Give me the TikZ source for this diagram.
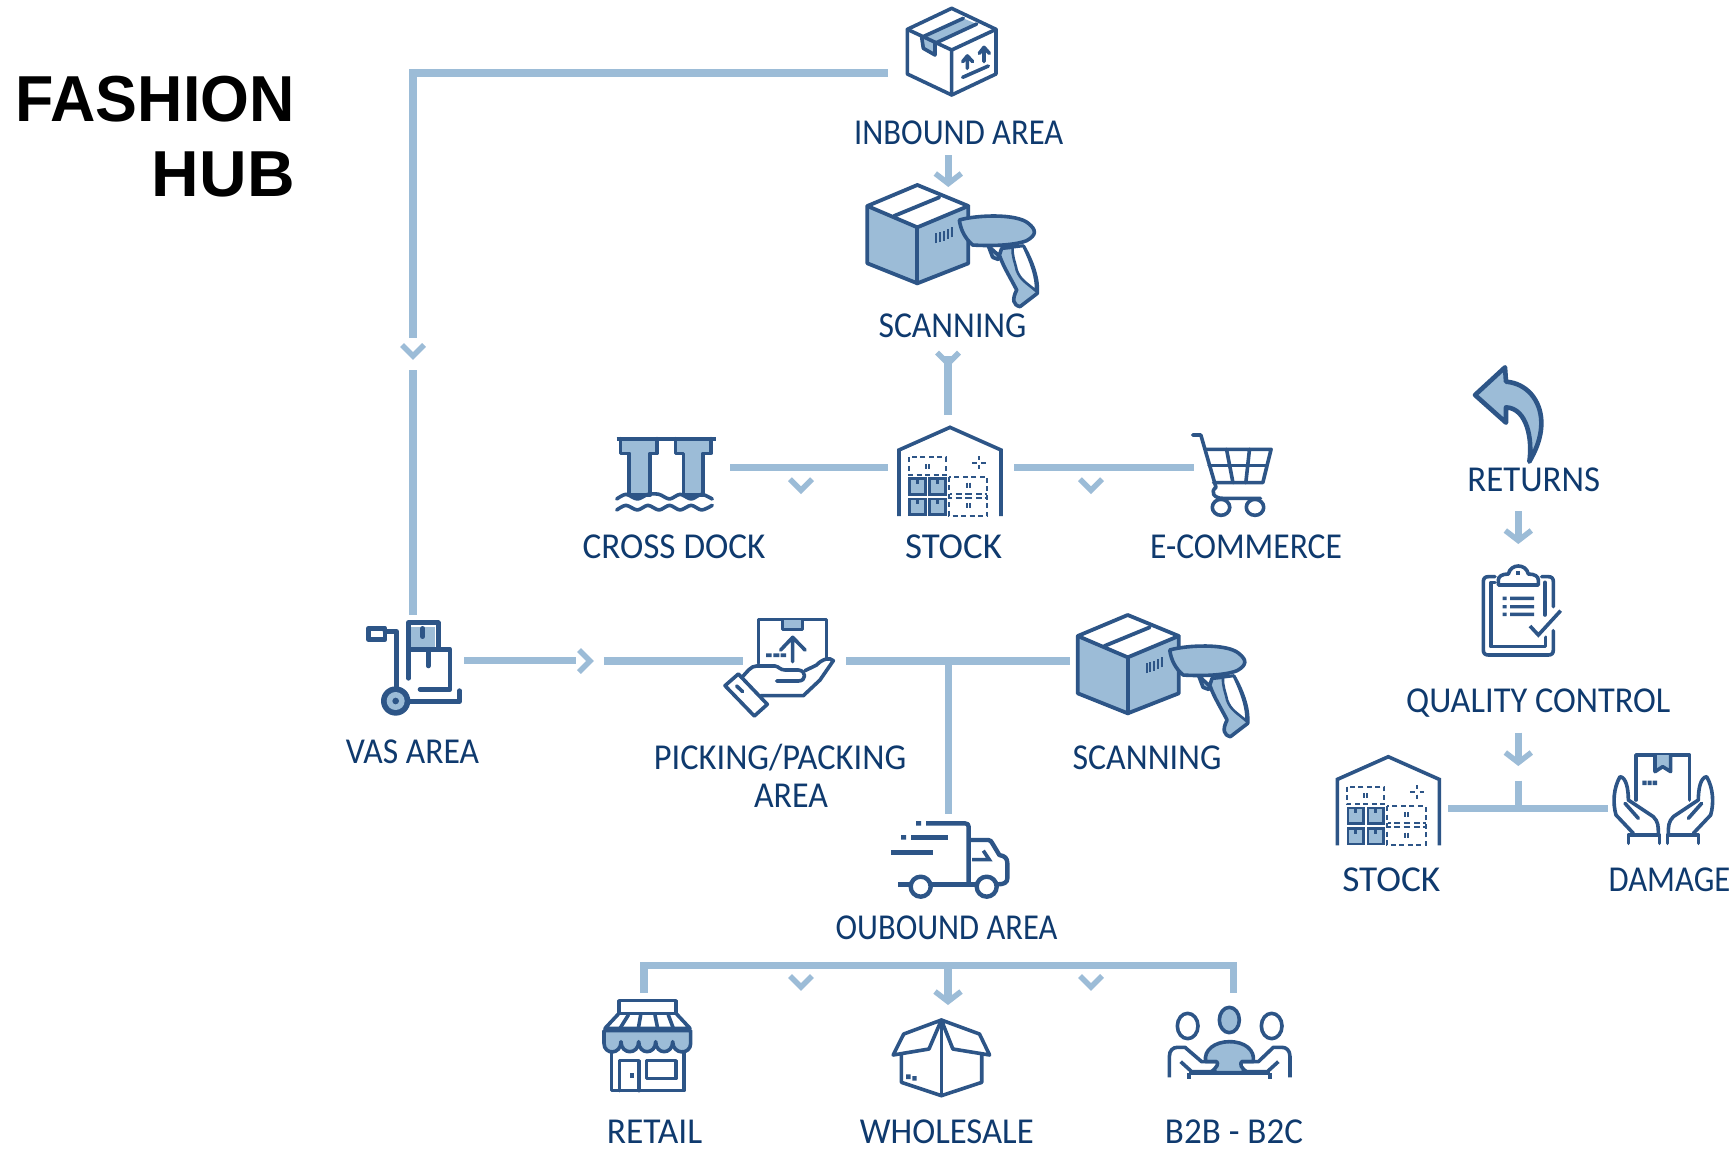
\documentclass[tikz,border=0pt]{standalone}
\usepackage{fontspec}
\usepackage{graphicx}
\setmainfont{Carlito}
\newfontfamily\titlefont[FakeStretch=0.966]{Liberation Sans Bold}
\newfontfamily\labelfont[FakeStretch=0.86]{Carlito}
\usetikzlibrary{arrows.meta,calc}
\definecolor{lineblue}{HTML}{9CBCD7}
\definecolor{iconblue}{HTML}{2D5587}
\definecolor{softblue}{HTML}{9CBCD7}
\definecolor{labelblue}{HTML}{0F3A6E}
\tikzset{
  conn/.style={draw=lineblue,line width=7.3pt,line cap=butt,line join=miter},
  arrowed/.style={conn,-{Straight Barb[length=10pt,width=26pt,line width=5.5pt]}},
  chev/.style={draw=lineblue,line width=5.5pt,line cap=butt,line join=miter},
  ic/.style={draw=iconblue,line width=3.6pt,line cap=round,line join=round},
  icf/.style={ic,fill=softblue},
  icw/.style={ic,fill=white},
  thin ic/.style={draw=iconblue,line width=2pt,line cap=butt},
  dash ic/.style={draw=iconblue,line width=2pt,line cap=butt,dash pattern=on 5pt off 3.5pt},
  lab/.style={font=\labelfont\fontsize{36.5}{38}\selectfont,text=labelblue,anchor=base,inner sep=0pt,align=center},
  ttl/.style={font=\titlefont\fontsize{65}{75}\selectfont,text=black,anchor=base east,inner sep=0pt},
  zoom3/.style={x=0.33333pt,y=-0.33333pt},
  zoomw/.style={x=0.45918pt,y=-0.33333pt},
}
\newcommand{\widen}[2]{\scalebox{#1}[1]{#2}}
\newcommand{\chevmark}[1]{\draw[chev] ($(#1)+(-11,-6)$) -- ($(#1)+(0,5)$) -- ($(#1)+(11,-6)$);}
\newcommand{\scannerIcon}{%
\begin{scope}[shift={(820,0)},zoom3]
  \fill[softblue] (142,618)--(292,682)--(292,850)--(142,790)--cycle;
  \fill[softblue] (292,682)--(445,618)--(445,790)--(292,850)--cycle;
  \draw[ic,line width=3.8pt] (142,618)--(292,555)--(445,618)--(445,790)--(292,850)--(142,790)--cycle;
  \draw[ic,line width=3.8pt] (142,618)--(292,682)--(445,618);
  \draw[ic,line width=3.8pt] (292,682)--(292,850);
  \draw[ic,line width=3.8pt] (222,648)--(358,592);
  \foreach \bx/\by in {349/730,360/727,371/722,383/716,396/712}{\draw[thin ic] (\bx,\by)--(\bx,{\by-30});}
  \draw[icf] (505,738)--(518,772)--(534,778)--(545,745)--(610,738)
     .. controls (640,790) and (655,840) .. (652,880)
     -- (600,920) .. controls (580,915) and (575,900) .. (590,870)
     .. controls (575,840) and (550,800) .. (540,770)--cycle;
  \draw[ic,fill=white,line width=2.6pt] (578,742) -- (610,738) .. controls (635,790) and (650,835) .. (648,873)
     .. controls (622,850) and (600,840) .. (590,810) .. controls (585,785) and (576,770) .. (578,742);
  \draw[icf] (418,660) .. controls (470,645) and (590,640) .. (625,670)
     .. controls (650,690) and (650,705) .. (620,722)
     .. controls (580,738) and (500,738) .. (458,735)
     .. controls (435,715) and (422,690) .. (418,660) -- cycle;
\end{scope}}
\newcommand{\stockIcon}{%
\begin{scope}[shift={(900,340)},zoom3]
  \draw[ic,line cap=butt,line join=miter] (-3,528)--(-3,330)--(150,262)--(303,330)--(303,528);
  \draw[dash ic] (26,352) rectangle (138,405);
  \draw[dash ic] (147,410) rectangle (262,527);
  \draw[thin ic] (78,372)--(78,386) (87,372)--(87,386);
  \draw[thin ic] (201,428)--(201,443) (210,428)--(210,443);
  \draw[thin ic] (201,490)--(201,505) (210,490)--(210,505);
  \draw[thin ic] (150,462)--(157,462) (167,462)--(185,462) (196,462)--(215,462) (228,462)--(245,462) (254,462)--(262,462);
  \draw[thin ic] (150,473)--(157,473) (167,473)--(185,473) (196,473)--(215,473) (228,473)--(245,473) (254,473)--(262,473);
  \draw[thin ic] (237,348)--(237,360) (237,376)--(237,388) (216,368)--(230,368) (244,368)--(258,368);
  \foreach \bx/\by in {25/412,85/412,25/473,85/473}{
    \fill[iconblue] (\bx,\by) rectangle +(55,55);
    \fill[softblue] ({\bx+8},{\by+8}) rectangle +(39,39);
    \fill[iconblue] ({\bx+23},{\by+8}) rectangle +(9,12);
  }
\end{scope}}
\newcommand{\handPath}{%
  \draw[ic] (925,550)--(925,525)--(1018,525)--(1018,550);
  \draw[ic] (940,520)--(888,465) .. controls (878,430) and (880,385) .. (900,350)
     .. controls (918,352) and (925,385) .. (925,420)
     -- (1000,470) .. controls (1015,485) and (1015,500) .. (1015,520);
  \draw[ic] (915,430)--(955,475);}
\begin{document}
\begin{tikzpicture}[x=1pt,y=-1pt]
\useasboundingbox (0,0) rectangle (1734,1148);
\fill[white] (0,0) rectangle (1734,1148);

% ---------- title
\node[ttl] (titleA) at (295,121.7) {FASHION};
\node[ttl] (titleB) at (295,196.7) {\widen{1.05}{HUB}};

% ---------- anchors of connectors
\node[minimum width=122pt,minimum height=100pt,inner sep=0pt] (inbound) at (949,73) {};
\node[minimum width=102pt,minimum height=90pt,inner sep=0pt] (vas) at (413,660.5) {};
\node[minimum width=126pt,minimum height=80pt,inner sep=0pt] (crossdock) at (667,467.3) {};
\node[minimum width=126pt,minimum height=90pt,inner sep=0pt] (stock) at (951,467.3) {};
\node[minimum width=100pt,minimum height=80pt,inner sep=0pt] (ecommerce) at (1244,467.3) {};
\node[minimum width=138.7pt,minimum height=90pt,inner sep=0pt] (picking) at (673.35,661) {};
\node[minimum width=208pt,minimum height=90pt,inner sep=0pt] (scanB) at (1174,661) {};
\node[minimum width=102pt,minimum height=90pt,inner sep=0pt] (stockB) at (1397,808.7) {};
\node[minimum width=104pt,minimum height=90pt,inner sep=0pt] (damage) at (1660,808.7) {};

% ---------- connectors
\coordinate (corner) at (413,73);
\coordinate (vasmark) at (413,351);
\coordinate (vasgapA) at (413,338);
\coordinate (vasgapB) at (413,370);
\draw[conn] (inbound.west) -- (corner) -- (vasgapA);
\draw[conn] (vasgapB) -- (vas.north -| vasgapB);
\chevmark{vasmark}

\coordinate (inA) at (948.3,155);
\coordinate (inB) at (948.3,187);
\draw[arrowed] (inA) -- (inB);

\coordinate (stA) at (948,356);
\coordinate (stB) at (948,415);
\coordinate (stC) at (948,358.6);
\draw[conn] (stA) -- (stB);
\chevmark{stC}

\draw[conn] (crossdock.east) -- (stock.west);
\draw[conn] (stock.east) -- (ecommerce.west);
\coordinate (crossmark) at (801,485.2);
\coordinate (ecommark) at (1091,485.2);
\chevmark{crossmark}
\chevmark{ecommark}

\coordinate (vasgapC) at (576,660.5);
\draw[conn] (vas.east) -- (vasgapC);
\coordinate (rightmark) at (585,661);
\draw[chev] ($(rightmark)+(-6,-11)$) -- ($(rightmark)+(5,0)$) -- ($(rightmark)+(-6,11)$);
\draw[conn] (picking.west) -- (picking.east);

\coordinate (pickB) at (846,661);
\coordinate (outjoin) at (948.3,661);
\coordinate (outtop) at (948.3,814);
\draw[conn] (pickB) -- (scanB.west);
\draw[conn] (outjoin) -- (outtop);

\coordinate (busL) at (644,965.3);
\coordinate (busR) at (1233.4,965.3);
\coordinate (retailTop) at (644,992.7);
\coordinate (b2bTop) at (1233.4,992.7);
\coordinate (busM) at (948,965.3);
\coordinate (wholeTop) at (948,1005);
\draw[conn] (retailTop) -- (busL) -- (busR) -- (b2bTop);
\draw[arrowed] (busM) -- (wholeTop);
\coordinate (retailmark) at (801,982);
\coordinate (b2bmark) at (1091,982);
\chevmark{retailmark}
\chevmark{b2bmark}

\coordinate (reA) at (1518.3,511);
\coordinate (reB) at (1518.3,544);
\draw[arrowed] (reA) -- (reB);
\coordinate (qcA) at (1518.3,732.7);
\coordinate (qcB) at (1518.3,766);
\draw[arrowed] (qcA) -- (qcB);
\coordinate (tTop) at (1518.3,780.7);
\coordinate (tJoin) at (1518.3,808.7);
\draw[conn] (stockB.east) -- (damage.west);
\draw[conn] (tTop) -- (tJoin);

% ---------- inbound box
\begin{scope}[shift={(820,0)},zoom3]
  \fill[softblue] (305,112)--(430,55)--(470,72)--(345,130)--(345,165)--(310,145)--cycle;
  \draw[ic] (262,88)--(395,25)--(528,88)--(528,222)--(395,285)--(262,222)--cycle;
  \draw[ic] (262,88)--(395,150)--(528,88) (395,150)--(395,285);
  \draw[ic] (305,112)--(430,55) (345,130)--(470,72);
  \draw[ic] (305,112)--(310,145)--(345,165)--(345,130);
  \draw[ic] (442,205)--(442,170) (428,185)--(442,168)--(458,185);
  \draw[ic] (492,185)--(492,145) (478,160)--(492,142)--(508,160);
  \draw[ic] (428,232)--(505,198);
\end{scope}

% ---------- scanners
\scannerIcon
\begin{scope}[shift={(210.4,430)}]\scannerIcon\end{scope}

% ---------- warehouses
\stockIcon
\begin{scope}[shift={(438.3,329.4)}]\stockIcon\end{scope}

% ---------- cross dock
\begin{scope}[shift={(580,400)},zoomw]
  \draw[icf] (88,116)--(88,160)--(107,160)--(107,285)--(153,285)--(153,160)--(168,160)--(168,116);
  \draw[icf] (208,116)--(208,160)--(225,160)--(225,285)--(268,285)--(268,160)--(285,160)--(285,116);
  \draw[ic,line width=4pt,line cap=butt] (80,116)--(296,116);
  \fill[white] (80,293) rectangle (296,345);
  \draw[ic] plot[smooth] coordinates {(80,297)(100,283)(125,297)(148,283)(172,283)(195,297)(218,283)(242,297)(265,283)(288,297)};
  \draw[ic] plot[smooth] coordinates {(80,330)(100,316)(125,330)(148,316)(172,330)(195,316)(218,330)(242,316)(265,330)(288,316)};
\end{scope}

% ---------- cart
\begin{scope}[shift={(580,400)},zoomw]
  \draw[ic] (1334,105)--(1352,105)--(1385,262) .. controls (1372,275) and (1380,295) .. (1400,295)--(1482,295);
  \draw[ic] (1362,148)--(1505,148)--(1487,248)--(1380,248);
  \draw[ic] (1370,197)--(1496,197);
  \draw[ic] (1408,148)--(1422,248) (1458,148)--(1450,248);
  \draw[ic] (1396,322) ellipse [x radius=19,y radius=24];
  \draw[ic] (1470,322) ellipse [x radius=19,y radius=24];
\end{scope}

% ---------- VAS trolley
\begin{scope}[shift={(340,600)},zoom3]
  \fill[softblue] (213,80) rectangle (285,140);
  \draw[ic,line width=4.6pt] (85,85) rectangle (135,118);
  \fill[white] (97,97) rectangle (122,105);
  \draw[ic,line width=4.6pt] (135,95)--(170,95)--(170,270);
  \draw[ic,line width=4.6pt] (205,235)--(205,68)--(295,68)--(295,145);
  \draw[ic,line width=4.6pt] (205,148)--(330,148)--(330,268)--(240,268);
  \draw[ic,line width=4.6pt] (248,85)--(248,110) (265,155)--(265,198);
  \draw[ic,line width=4.6pt] (205,305)--(358,305)--(358,272);
  \fill[iconblue] (167,303) circle [radius=44];
  \fill[softblue] (167,303) circle [radius=27];
  \fill[iconblue] (167,303) circle [radius=10];
\end{scope}

% ---------- picking hand
\begin{scope}[shift={(340,600)},zoom3]
  \draw[ic] (1255,190)--(1255,58)--(1460,58)--(1460,175);
  \draw[icf] (1328,60)--(1328,88)--(1388,88)--(1388,60);
  \draw[ic] (1358,185)--(1358,112) (1322,150)--(1358,112)--(1395,150);
  \fill[iconblue] (1278,160) rectangle (1295,171) (1300,160) rectangle (1318,171) (1322,160) rectangle (1338,171);
  \draw[icw] (1155,257)--(1195,222)--(1282,313)--(1243,348)--cycle;
  \draw[ic] (1190,258)--(1208,275);
  \draw[ic] (1205,233) .. controls (1222,215) and (1232,198) .. (1250,198) -- (1305,198)
     .. controls (1318,200) and (1320,210) .. (1335,210) -- (1375,210)
     .. controls (1400,212) and (1400,243) .. (1375,243) -- (1310,243);
  \draw[ic] (1395,212)--(1430,195) .. controls (1445,178) and (1470,170) .. (1480,182)
     -- (1440,240) -- (1390,287) -- (1262,287);
\end{scope}

% ---------- truck
\begin{scope}[shift={(860,800)},zoom3]
  \fill[iconblue] (168,63) rectangle (183,77) (123,105) rectangle (138,119);
  \draw[ic,line width=4.4pt,line cap=butt] (198,70)--(315,70) .. controls (322,70) and (326,74) .. (326,80)--(326,250);
  \draw[ic,line width=4.4pt,line cap=butt] (153,112)--(263,112);
  \draw[ic,line width=4.4pt,line cap=butt] (93,157)--(218,157);
  \draw[ic,line width=4.4pt,line cap=butt] (115,253)--(150,253) (212,253)--(350,253);
  \draw[ic,line width=4.4pt,line cap=butt] (326,120)--(385,120) .. controls (392,120) and (394,125) .. (397,130) -- (418,165) .. controls (435,168) and (442,175) .. (442,190) -- (442,235) .. controls (442,248) and (432,253) .. (412,253);
  \draw[ic,line width=3.6pt,line cap=butt,line join=miter] (336,179)--(388,179)--(370,152);
  \draw[ic,line width=4.4pt] (182,260) circle [radius=30];
  \draw[ic,line width=4.4pt] (380,260) circle [radius=30];
\end{scope}

% ---------- retail
\begin{scope}[shift={(590,1000)},zoom3]
  \draw[ic] (87,2) rectangle (258,40);
  \draw[ic] (87,40)--(45,85)--(300,85)--(258,40);
  \draw[ic] (115,45)--(90,85) (152,45)--(145,85) (195,45)--(203,85) (235,45)--(250,85);
  \draw[ic] (65,155)--(65,272)--(282,272)--(282,155);
  \draw[icf] (42,92)--(302,92)--(302,130)
     .. controls (302,165) and (248,165) .. (248,125)
     .. controls (248,165) and (197,165) .. (197,125)
     .. controls (197,165) and (146,165) .. (146,125)
     .. controls (146,165) and (93,165) .. (93,125)
     .. controls (93,165) and (42,165) .. (42,130) -- cycle;
  \draw[ic] (88,272)--(88,182)--(147,182)--(147,272);
  \fill[iconblue] (120,220) rectangle (132,233);
  \draw[ic] (170,182) rectangle (258,235);
\end{scope}

% ---------- wholesale
\begin{scope}[shift={(580,950)},zoomw]
  \draw[ic] (787,210)--(705,252)--(682,315)--(760,297)--cycle;
  \draw[ic] (787,210)--(870,252)--(892,315)--(812,297)--cycle;
  \draw[ic] (700,315)--(700,397)--(787,437)--(875,397)--(875,315);
  \draw[ic] (787,210)--(787,437);
  \fill[iconblue] (710,373) rectangle (720,387) (724,378) rectangle (733,392);
\end{scope}

% ---------- B2B
\begin{scope}[shift={(1160,1000)},zoom3]
  \draw[ic] (83,78) ellipse [x radius=31,y radius=38];
  \draw[ic] (335,78) ellipse [x radius=31,y radius=38];
  \draw[icf] (208,60) ellipse [x radius=30,y radius=38];
  \draw[icf] (150,218) .. controls (175,200) and (175,190) .. (170,185) -- (137,185)
     .. controls (130,150) and (165,125) .. (208,125)
     .. controls (255,125) and (285,150) .. (280,185) -- (245,185)
     .. controls (240,190) and (240,205) .. (265,218) -- cycle;
  \draw[ic,line cap=butt] (28,232)--(28,170) .. controls (28,150) and (40,142) .. (52,142) -- (75,142) -- (125,185) -- (170,185);
  \draw[ic,line cap=butt] (390,232)--(390,170) .. controls (390,150) and (378,142) .. (366,142) -- (340,142) -- (295,185) -- (245,185);
  \draw[ic,line cap=butt] (62,185)--(95,215)--(170,215);
  \draw[ic,line cap=butt] (355,185)--(322,215)--(245,215);
  \draw[ic,line cap=butt] (87,220)--(330,220) (87,220)--(87,236) (330,220)--(330,236);
\end{scope}

% ---------- returns arrow
\begin{scope}[shift={(1320,350)},zoom3]
  \draw[icf,line width=4.6pt] (465,135)--(555,52)--(558,95)
    .. controls (620,100) and (662,150) .. (664,215)
    .. controls (665,265) and (645,305) .. (628,335)
    .. controls (638,270) and (622,175) .. (558,172)
    -- (558,218) -- cycle;
\end{scope}

% ---------- clipboard
\begin{scope}[shift={(1320,350)},zoom3]
  \draw[ic] (525,680)--(505,680) .. controls (495,680) and (490,685) .. (490,695)--(490,900) .. controls (490,910) and (495,915) .. (505,915)--(685,915) .. controls (695,915) and (700,910) .. (700,900)--(700,842);
  \draw[ic] (665,680)--(685,680) .. controls (695,680) and (700,685) .. (700,695)--(700,770);
  \draw[ic] (525,697)--(513,697)--(513,890)--(677,890)--(677,862);
  \draw[ic] (675,697)--(675,795);
  \draw[ic] (535,705)--(535,690) .. controls (535,680) and (545,672) .. (565,672)
     .. controls (572,640) and (618,640) .. (625,672)
     .. controls (645,672) and (655,680) .. (655,690)--(655,705)--cycle;
  \fill[iconblue] (588,662) rectangle (600,675);
  \fill[iconblue] (548,740) rectangle (560,750) (548,765) rectangle (560,775) (548,788) rectangle (560,798);
  \fill[iconblue] (570,740) rectangle (642,750) (570,765) rectangle (642,775) (570,788) rectangle (642,798);
  \draw[ic,line cap=butt,line join=miter] (630,828)--(655,855)--(722,782);
\end{scope}

% ---------- damage
\begin{scope}[shift={(1320,660)},zoom3]
  \draw[ic] (948,420)--(948,285)--(1108,285)--(1108,420);
  \draw[icf] (1005,285)--(1005,335)--(1028,320)--(1052,335)--(1052,285);
  \fill[iconblue] (967,362) rectangle (980,375) (983,362) rectangle (995,375) (998,362) rectangle (1011,375);
  \handPath
  \begin{scope}[shift={(2060,0)},xscale=-1]\handPath\end{scope}
\end{scope}

% ---------- labels
\node[lab] (lInbound) at (958.7,144) {\widen{1.039}{INBOUND AREA}};
\node[lab] (lScanA) at (952.5,337) {\widen{1.073}{SCANNING}};
\node[lab] (lCross) at (674,558.7) {\widen{1.12}{CROSS DOCK}};
\node[lab] (lStock) at (953.5,558.7) {\widen{1.176}{STOCK}};
\node[lab] (lEcom) at (1246,558.7) {\widen{1.068}{E-COMMERCE}};
\node[lab] (lVas) at (412.5,763) {\widen{1.07}{VAS AREA}};
\node[lab] (lPick) at (780,807) {\widen{1.096}{PICKING/PACKING}\\[0pt]\hspace*{22pt}\widen{1.08}{AREA}};
\node[lab] (lScanB) at (1147,769.3) {\widen{1.08}{SCANNING}};
\node[lab] (lOut) at (946.5,939.3) {\widen{1.036}{OUBOUND AREA}};
\node[lab] (lRetail) at (654.5,1143) {\widen{1.13}{RETAIL}};
\node[lab] (lWhole) at (946.8,1143) {\widen{1.105}{WHOLESALE}};
\node[lab] (lB2B) at (1234,1143) {\widen{1.117}{B2B - B2C}};
\node[lab] (lReturns) at (1533.8,491.7) {\widen{1.11}{RETURNS}};
\node[lab] (lQc) at (1538.3,712.7) {\widen{1.096}{QUALITY CONTROL}};
\node[lab] (lStockB) at (1391.3,891.7) {\widen{1.19}{STOCK}};
\node[lab] (lDamage) at (1669.5,891.7) {\widen{1.04}{DAMAGE}};
\end{tikzpicture}
\end{document}
